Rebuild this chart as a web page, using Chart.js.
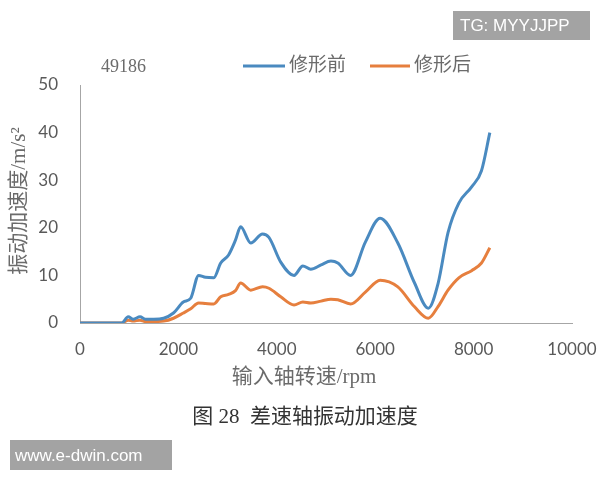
<!DOCTYPE html>
<html>
<head>
<meta charset="utf-8">
<script src="https://cdn.jsdelivr.net/npm/chart.js@4.4.1/dist/chart.umd.min.js"></script>
<style>
  html, body { margin: 0; padding: 0; background: #ffffff; }
  #wrap { width: 600px; height: 480px; position: relative; }
</style>
</head>
<body>
<div id="wrap"><canvas id="c" width="600" height="480"></canvas></div>
<script>
// ---- data ----
const rpm = [0, 850, 980, 1080, 1220, 1330, 1500, 1700, 1900, 2100, 2250, 2410, 2550, 2720, 2860, 3020, 3160, 3265, 3470, 3710, 3840, 4080, 4350, 4530, 4690, 4900, 5100, 5240, 5500, 5800, 6100, 6460, 6800, 7080, 7280, 7480, 7700, 7960, 8160, 8330];
const before = [0, 0, 1.3, 0.8, 1.3, 0.8, 0.8, 1.0, 2.1, 4.4, 5.2, 10, 9.6, 9.5, 12.6, 14.3, 17.4, 20.2, 16.8, 18.7, 18.0, 12.8, 10, 12, 11.3, 12.2, 13, 12.6, 10, 17, 22, 16.8, 8.4, 3.1, 8.4, 19, 25.2, 28.6, 32, 40];
const after = [0, 0, 0.6, 0.4, 0.6, 0.3, 0.3, 0.4, 1.0, 2.1, 3.0, 4.2, 4.1, 4.0, 5.5, 6.0, 6.8, 8.4, 6.9, 7.6, 7.3, 5.5, 3.8, 4.4, 4.2, 4.6, 5.0, 4.9, 4.0, 6.5, 9.0, 7.6, 3.4, 1.0, 3.5, 6.9, 9.5, 11, 12.6, 15.8];
const seriesNames = ['修形前', '修形后'];
const xTicks = [0, 2000, 4000, 6000, 8000, 10000];
const yTicks = [0, 10, 20, 30, 40, 50];
const xTitle = '输入轴转速/rpm';
const yTitle = '振动加速度/m/s²';
const caption = '图 28  差速轴振动加速度';
const noteText = '49186';

const colors = ['#4a8ac0', '#e67f3e'];
const serif = "'Liberation Serif', 'Noto Sans CJK SC', serif";
const sans = "Lato, 'Liberation Sans', sans-serif";

const toPts = (xs, ys) => xs.map((x, i) => ({ x: x, y: ys[i] }));

const overlay = {
  id: 'overlay',
  afterDraw(chart) {
    const ctx = chart.ctx;
    ctx.save();
    ctx.font = '18px ' + serif;
    ctx.fillStyle = '#6b6b6b';
    ctx.textBaseline = 'middle';
    ctx.textAlign = 'left';
    ctx.fillText(noteText, 101, 67);
    const items = [
      { x0: 243, x1: 285, tx: 289 },
      { x0: 370, x1: 410, tx: 414 }
    ];
    chart.data.datasets.forEach((ds, i) => {
      const it = items[i];
      ctx.strokeStyle = ds.borderColor;
      ctx.lineWidth = 3;
      ctx.beginPath();
      ctx.moveTo(it.x0, 66);
      ctx.lineTo(it.x1, 66);
      ctx.stroke();
      ctx.font = '19px ' + serif;
      ctx.fillStyle = '#6b6b6b';
      ctx.fillText(ds.label, it.tx, 66);
    });
    // axis titles
    ctx.font = '21px ' + serif;
    ctx.fillStyle = '#6b6b6b';
    ctx.textAlign = 'center';
    ctx.fillText(xTitle, 304, 377);
    ctx.save();
    ctx.translate(19, 201);
    ctx.rotate(-Math.PI / 2);
    ctx.fillText(yTitle, 0, 0);
    ctx.restore();
    // caption
    ctx.font = '21px ' + serif;
    ctx.fillStyle = '#333333';
    ctx.fillText(caption, 305, 417);
    ctx.fillStyle = '#a3a3a3';
    ctx.fillRect(453, 11, 137, 29);
    ctx.fillRect(10, 440, 162, 30);
    ctx.fillStyle = '#ffffff';
    ctx.font = '17px ' + "'Liberation Sans', sans-serif";
    ctx.textAlign = 'left';
    ctx.fillText('TG: MYYJJPP', 460, 26);
    ctx.fillText('www.e-dwin.com', 15, 456);
    ctx.restore();
  }
};

new Chart(document.getElementById('c'), {
  type: 'line',
  data: {
    datasets: [
      { label: seriesNames[0], data: toPts(rpm, before), borderColor: colors[0], backgroundColor: colors[0], borderWidth: 3, pointRadius: 0, cubicInterpolationMode: 'monotone', fill: false },
      { label: seriesNames[1], data: toPts(rpm, after), borderColor: colors[1], backgroundColor: colors[1], borderWidth: 3, pointRadius: 0, cubicInterpolationMode: 'monotone', fill: false }
    ]
  },
  options: {
    responsive: false,
    animation: false,
    events: [],
    layout: { padding: { left: 0, right: 28, top: 85, bottom: 90 } },
    plugins: { legend: { display: false }, tooltip: { enabled: false } },
    scales: {
      x: {
        type: 'linear',
        min: 0, max: 10000,
        afterBuildTicks: (s) => { s.ticks = xTicks.map(v => ({ value: v })); },
        ticks: { font: { family: sans, size: 17 }, color: '#595959', padding: 16, maxRotation: 0, callback: (v) => String(v) },
        grid: { display: false, drawTicks: false },
        border: { display: true, color: '#a6a6a6', width: 1 },
        title: { display: false, text: xTitle },
        afterFit: (s) => { s.height = 67; s.paddingRight = 0; }
      },
      y: {
        min: 0, max: 50,
        afterBuildTicks: (s) => { s.ticks = yTicks.map(v => ({ value: v })); },
        ticks: { font: { family: sans, size: 17 }, color: '#595959', padding: 22, callback: (v) => String(v) },
        grid: { display: false, drawTicks: false },
        border: { display: true, color: '#a6a6a6', width: 1 },
        title: { display: false, text: yTitle },
        afterFit: (s) => { s.width = 80; }
      }
    }
  },
  plugins: [overlay]
});
</script>
</body>
</html>
